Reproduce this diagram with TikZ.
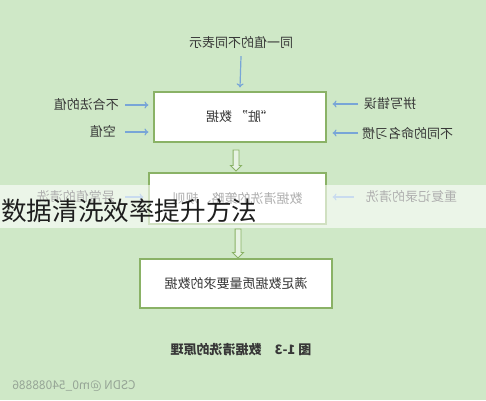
\documentclass[tikz,border=0pt]{standalone}
\usepackage{graphicx}
\usepackage{fontspec}
\setmainfont{Noto Sans CJK SC}
\usetikzlibrary{shapes.arrows,arrows.meta}
\definecolor{bggreen}{RGB}{207,232,199}
\definecolor{boxgreen}{RGB}{138,178,102}
\definecolor{arrblue}{RGB}{120,165,215}
\definecolor{txtgray}{RGB}{55,55,55}
\definecolor{markgray}{RGB}{150,165,150}
\newcommand{\mirr}[1]{\scalebox{-1}[1]{#1}}
\tikzset{
  lbl/.style={font=\fontsize{13}{15}\selectfont, text=txtgray, inner sep=0pt},
  databox/.style={lbl, draw=boxgreen, line width=1.1pt, fill=white, minimum height=50pt},
  thinarrow/.style={-{To[length=4pt,width=7pt]}, arrblue, line width=1.2pt},
  hollowarrow/.style={single arrow, draw=boxgreen, line width=0.9pt, fill=bggreen!50!white,
    shape border rotate=270, inner sep=2.5pt, minimum width=8pt, single arrow head extend=2.5pt}
}
\begin{document}
\begin{tikzpicture}[x=1pt, y=-1pt]
        \fill[bggreen] (0,0) rectangle (486,400);
        \useasboundingbox (0,0) rectangle (486,400);

        %% top row
        \node[lbl] (same) at (241,43) {\mirr{同一值的不同表示}};
        \node[databox, minimum width=172pt] (dirty) at (240,117) {\mirr{“脏” 数据}};
        \node[lbl, anchor=east] (illegal) at (119,105) {\mirr{不合法的值}};
        \node[lbl, anchor=east] (empty) at (116,132) {\mirr{空值}};
        \node[lbl, anchor=west] (spell) at (364,104) {\mirr{拼写错误}};
        \node[lbl, anchor=west] (naming) at (362,133) {\mirr{不同的命名习惯}};
        \draw[thinarrow] ([yshift=-7pt]same.south) -- ([yshift=4pt]dirty.north);
        \draw[thinarrow] ([xshift=6pt]illegal.east) -- ([xshift=-5pt]illegal.east -| dirty.west);
        \draw[thinarrow] ([xshift=9pt]empty.east) -- ([xshift=-5pt]empty.east -| dirty.west);
        \draw[thinarrow] ([xshift=-6pt]spell.west) -- ([xshift=6pt]spell.west -| dirty.east);
        \draw[thinarrow] ([xshift=-4pt]naming.west) -- ([xshift=6pt]naming.west -| dirty.east);

        %% middle row
        \node[hollowarrow, minimum height=21pt] (down1) at (236,159) {};
        \node[databox, minimum width=177pt, minimum height=51pt] (rules) at (237.5,198.5) {\mirr{数据清洗的策略、规则}};
        \node[lbl, anchor=east] (outlier) at (115,197) {\mirr{异常值的清洗}};
        \node[lbl, anchor=west] (dup) at (366,197) {\mirr{重复记录的清洗}};
        \draw[thinarrow] ([xshift=10pt]outlier.east) -- ([xshift=-5pt]outlier.east -| rules.west);
        \draw[thinarrow] ([xshift=-12pt]dup.west) -- ([xshift=6pt]dup.west -| rules.east);

        %% bottom row
        \node[hollowarrow, minimum height=29pt] (down2) at (238,242) {};
        \node[databox, minimum width=192pt, minimum height=49pt] (clean) at (236,283.5) {\mirr{满足数据质量要求的数据}};
        \node[lbl, font=\fontsize{13}{15}\selectfont\bfseries] (caption) at (241,350) {\mirr{图 1-3\quad 数据清洗的原理}};
        \node[lbl, text=markgray, font=\fontsize{12}{14}\selectfont] (mark) at (74,386) {\mirr{CSDN @m0\_54088886}};

        %% title band
        \fill[white, opacity=0.6] (0,185) rectangle (486,228);
        \node[inner sep=0pt, anchor=west, text={rgb,255:red,30;green,30;blue,30}, font=\fontsize{25.6}{28}\selectfont] (title) at (1,211) {数据清洗效率提升方法};
      \end{tikzpicture}
\end{document}
